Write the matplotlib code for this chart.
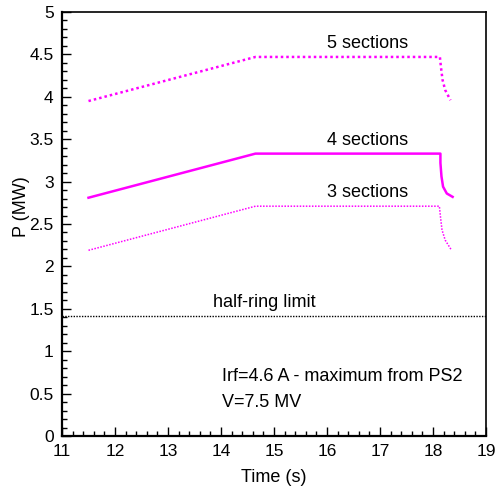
import matplotlib
matplotlib.use("Agg")
import matplotlib.pyplot as plt
from matplotlib.ticker import MultipleLocator

plt.rcParams['font.family'] = ['Liberation Sans', 'DejaVu Sans']

# power curves (time in s, P in MW)
t5 = [11.5, 14.65, 18.13, 18.15, 18.18, 18.23, 18.33]
p5 = [3.95, 4.47, 4.47, 4.35, 4.20, 4.08, 3.96]

t4 = [11.5, 14.65, 18.14, 18.14, 18.16, 18.19, 18.26, 18.37]
p4 = [2.81, 3.33, 3.33, 3.22, 3.06, 2.94, 2.86, 2.82]

t3 = [11.5, 14.65, 18.12, 18.14, 18.17, 18.23, 18.35]
p3 = [2.19, 2.71, 2.71, 2.59, 2.43, 2.31, 2.19]

half_ring_limit = 1.41

fig = plt.figure(figsize=(4.95, 4.86), dpi=100)
ax = fig.add_axes([62 / 495, 50 / 486, 424 / 495, 424 / 486])

mag = '#ff00ff'
ax.plot(t5, p5, color=mag, lw=1.8, linestyle=(0, (1, 1.2)))
ax.plot(t4, p4, color=mag, lw=1.8, linestyle='-')
ax.plot(t3, p3, color=mag, lw=1.1, linestyle=(0, (1, 1)))
ax.axhline(half_ring_limit, color='black', lw=1.0, linestyle=(0, (1, 1)))

fs = 13
ax.text(16.76, 4.63, '5 sections', ha='center', va='center', fontsize=fs)
ax.text(16.76, 3.49, '4 sections', ha='center', va='center', fontsize=fs)
ax.text(16.76, 2.87, '3 sections', ha='center', va='center', fontsize=fs)
ax.text(14.81, 1.58, 'half-ring limit', ha='center', va='center', fontsize=fs)
ax.text(14.02, 0.70, 'Irf=4.6 A - maximum from PS2', ha='left', va='center', fontsize=fs)
ax.text(14.02, 0.40, 'V=7.5 MV', ha='left', va='center', fontsize=fs)

ax.set_xlim(11, 19)
ax.set_ylim(0, 5)
ax.xaxis.set_major_locator(MultipleLocator(1))
ax.xaxis.set_minor_locator(MultipleLocator(0.2))
ax.yaxis.set_major_locator(MultipleLocator(0.5))
ax.yaxis.set_minor_locator(MultipleLocator(0.1))
ax.yaxis.set_major_formatter(plt.FuncFormatter(lambda v, p: f'{v:g}'))

ax.tick_params(which='both', direction='in', top=False, right=False,
               labelsize=12.5, width=1.0)
ax.tick_params(which='major', length=6.5, pad=6)
ax.tick_params(which='minor', length=3.5)

for s in ['left', 'bottom']:
    ax.spines[s].set_linewidth(1.6)
for s in ['top', 'right']:
    ax.spines[s].set_linewidth(1.2)

ax.set_xlabel('Time (s)', fontsize=13)
ax.set_ylabel('P (MW)', fontsize=13)
ax.yaxis.set_label_coords(-0.095, 0.54)
ax.xaxis.set_label_coords(0.5, -0.097)
ax.xaxis.label.set_va('center')
ax.yaxis.label.set_va('center')

fig.savefig('out.png', dpi=100)
